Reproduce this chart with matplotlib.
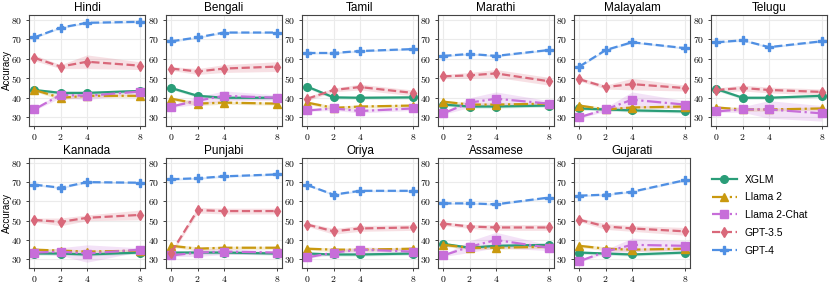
import numpy as np
import matplotlib.pyplot as plt
from matplotlib.ticker import FuncFormatter

plt.rcParams['mathtext.fontset'] = 'cm'
plt.rcParams['font.family'] = ['Liberation Sans', 'DejaVu Sans']

# shots on x axis
shots = [0, 2, 4, 8]

languages = ["Hindi", "Bengali", "Tamil", "Marathi", "Malayalam", "Telugu",
             "Kannada", "Punjabi", "Oriya", "Assamese", "Gujarati"]
models = ["XGLM", "Llama 2", "Llama 2-Chat", "GPT-3.5", "GPT-4"]

# mean accuracy, one row per language (order as languages)
xglm = [[44, 42.5, 42.5, 43.5], [45, 41, 40, 40], [45.7, 40.2, 40, 40.2],
        [36.5, 35.5, 35.5, 36], [34.5, 34, 33.5, 33], [44.5, 40, 40, 41],
        [33, 33, 32.5, 33.5], [33.5, 33.5, 33.5, 33], [33, 32.5, 32.5, 33],
        [38, 36, 37, 37.5], [33.5, 33, 32.5, 33.5]]
llama2 = [[44, 40, 41, 41], [39.5, 37, 37.5, 37], [37.5, 34.8, 35.5, 36],
          [38, 36.5, 36.5, 37], [36, 34, 35, 35.5], [35, 34, 34, 34.5],
          [35, 34.5, 34, 34.5], [37, 35.5, 36, 36], [35.5, 35, 35, 35.5],
          [37.5, 36, 36, 36.5], [37, 35.5, 35, 35.5]]
llama2_chat = [[34, 41.5, 41, 43.2], [35.5, 38.5, 41, 40], [33.5, 34.5, 33.2, 34.5],
               [32, 37.5, 39.5, 37], [30, 34, 39, 36.5], [33, 34, 34, 32],
               [33.5, 34, 33, 35], [32, 33.5, 34, 33.5], [31, 33.5, 35, 34],
               [32, 36.5, 40, 36], [29, 34, 37.5, 37]]
gpt35 = [[60.5, 56, 58.5, 56.5], [55, 53.5, 55, 56], [39.5, 44, 45.5, 42.5],
         [51, 51.5, 52.5, 48.5], [49.5, 45.5, 47, 45], [44, 45, 44, 43],
         [50.4, 49.4, 51.5, 53], [33.5, 55.5, 55, 55], [48, 44.5, 46, 46.5],
         [48.5, 47, 46.5, 46.5], [50.5, 47, 46, 44.5]]
gpt4 = [[71, 76, 78.5, 79], [69, 71, 73.5, 73.5], [63, 63, 64, 65],
        [61.5, 62.5, 61.5, 64.5], [56, 64.5, 68.5, 65.5], [68.5, 69.5, 66, 69],
        [68.7, 67.1, 70, 69.7], [71.5, 72, 73, 74], [68.5, 63.5, 65.5, 65.5],
        [59, 59, 58.5, 62], [63, 63.5, 65, 71]]

# spread (shaded band half width)
xglm_sd = [[0.8, 0.8, 0.8, 0.8]] * 11
llama2_sd = [[0.8, 1.0, 0.8, 0.8]] * 11
llama2_chat_sd = [[0.5, 1.5, 2.0, 1.0], [0.5, 2.0, 2.5, 1.5], [0.5, 1.0, 1.0, 1.0],
                  [0.5, 2.5, 3.5, 1.5], [0.5, 1.0, 4.0, 2.0], [0.5, 1.5, 4.5, 4.0],
                  [0.5, 2.0, 4.5, 1.0], [0.5, 2.0, 1.5, 1.0], [0.5, 1.0, 1.5, 1.5],
                  [0.5, 3.0, 4.0, 1.5], [0.5, 1.0, 3.5, 2.5]]
gpt35_sd = [[1.5, 1.0, 3.5, 2.0], [1.0, 1.5, 2.0, 2.5], [1.0, 1.0, 1.5, 1.5],
            [1.0, 1.5, 2.0, 2.0], [1.0, 1.0, 3.0, 1.5], [1.0, 1.5, 1.5, 1.5],
            [1.0, 2.0, 1.5, 2.5], [1.0, 1.5, 1.5, 1.5], [1.0, 1.5, 1.5, 1.5],
            [1.0, 1.0, 1.5, 1.5], [1.0, 1.5, 1.5, 2.0]]
gpt4_sd = [[0.5, 0.5, 0.5, 0.5]] * 11

means = [xglm, llama2, llama2_chat, gpt35, gpt4]
sds = [xglm_sd, llama2_sd, llama2_chat_sd, gpt35_sd, gpt4_sd]
colors = ["#2a9d78", "#c9990f", "#c76ed9", "#d9687a", "#4f8fe3"]
markers = ["o", "^", "s", "d", "P"]
styles = ["-", "-.", "-.", "--", "--"]

W, H = 830, 288
fig = plt.figure(figsize=(W / 100, H / 100), dpi=100)

lefts = [29, 166, 302, 438, 574, 711]
rows = [(15, 126), (158, 268)]
aw = 116

fmt = FuncFormatter(lambda v, p: r"$%d$" % v)
handles = []
for i, lang in enumerate(languages):
    r, c = divmod(i, 6)
    top, bot = rows[r]
    ax = fig.add_axes([lefts[c] / W, 1 - bot / H, aw / W, (bot - top) / H])
    for m in range(len(models)):
        y = np.array(means[m][i])
        s = np.array(sds[m][i])
        ax.fill_between(shots, y - s, y + s, color=colors[m], alpha=0.2, lw=0)
        h, = ax.plot(shots, y, color=colors[m], marker=markers[m], ls=styles[m],
                     lw=1.6, ms=5.5, label=models[m])
        if i == 0:
            handles.append(h)
    ax.set_xlim(-0.4, 8.4)
    ax.set_ylim(25.5, 82.5)
    ax.set_xticks(shots)
    ax.set_yticks([30, 40, 50, 60, 70, 80])
    ax.xaxis.set_major_formatter(fmt)
    ax.yaxis.set_major_formatter(fmt)
    ax.tick_params(labelsize=7, length=2.5, width=0.7, color="#444444", pad=2)
    ax.grid(True, color="#ebebeb", lw=0.8)
    ax.set_axisbelow(True)
    for sp in ax.spines.values():
        sp.set_color("#444444")
        sp.set_linewidth(0.8)
    ax.set_title(lang, fontsize=8.5, pad=3)
    if c == 0:
        ax.set_ylabel("Accuracy", fontsize=7)
        ax.yaxis.set_label_coords(-0.15, 0.5)

fig.legend(handles=handles, loc="center", bbox_to_anchor=(0.915, 0.253),
           frameon=False, fontsize=7.5, handlelength=2.4, labelspacing=0.75)

fig.savefig("out.png", dpi=100)
